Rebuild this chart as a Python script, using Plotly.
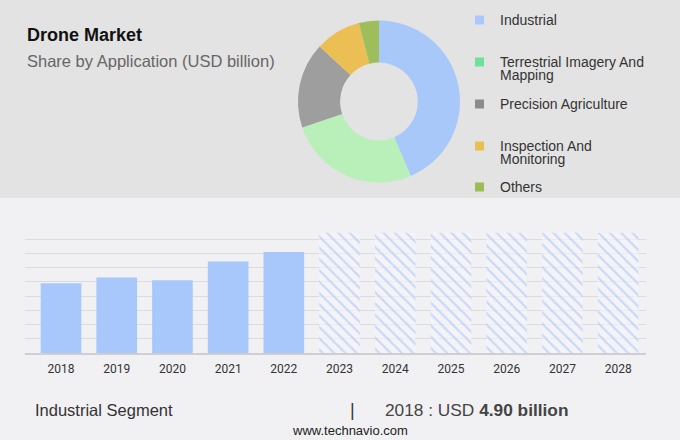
import plotly.graph_objects as go

# ---- data ----
segments = ["Industrial", "Terrestrial Imagery And Mapping", "Precision Agriculture",
            "Inspection And Monitoring", "Others"]
segment_labels = ["Industrial", "Terrestrial Imagery And<br>Mapping", "Precision Agriculture",
                  "Inspection And<br>Monitoring", "Others"]
segment_share = [43.6, 26.2, 17.1, 9.1, 4.0]

hist_years = ["2018", "2019", "2020", "2021", "2022"]
hist_values = [4.90, 5.30, 5.12, 6.43, 7.11]
fcst_years = ["2023", "2024", "2025", "2026", "2027", "2028"]
fcst_values = [8.45, 8.45, 8.45, 8.45, 8.45, 8.45]

# ---- styles ----
W, H = 680, 440
pie_colors = ["#a9c8fa", "#b9f0b9", "#9e9e9e", "#ecbf55", "#9dbe5b"]
legend_colors = ["#a9c8fb", "#6fe196", "#8c8c8c", "#e9c04f", "#9bbd55"]
bar_color = "#a8c8fb"
FONT = "Liberation Sans"

def py(p):
    return 1 - p / H

def px(p):
    return p / W

fig = go.Figure()

fig.add_trace(go.Pie(
    labels=segments, values=segment_share, hole=0.48, sort=False,
    direction="clockwise", rotation=0,
    marker=dict(colors=pie_colors, line=dict(width=0)),
    textinfo="none", hoverinfo="label+percent", showlegend=False,
    domain=dict(x=[px(298), px(460)], y=[py(182.5), py(20.5)]),
))

fig.add_trace(go.Bar(
    x=hist_years, y=hist_values, marker=dict(color=bar_color, line=dict(width=0)),
    width=0.73, showlegend=False,
))
fig.add_trace(go.Bar(
    x=fcst_years, y=fcst_values,
    marker=dict(color="rgba(0,0,0,0)", line=dict(width=0),
                pattern=dict(shape="\\", fgcolor="#9fbef3", bgcolor="rgba(246,247,251,0.6)",
                             size=8, solidity=0.28)),
    width=0.73, showlegend=False,
))

all_years = hist_years + fcst_years

fig.update_layout(
    width=W, height=H, margin=dict(l=0, r=0, t=0, b=0),
    paper_bgcolor="#f1f1f3", plot_bgcolor="rgba(0,0,0,0)",
    barmode="overlay", showlegend=False,
    xaxis=dict(domain=[px(25), px(646)], type="category", categoryorder="array",
               categoryarray=all_years, range=[-0.646, 10.5],
               showgrid=False, showline=True, linecolor="#cfcfd2", linewidth=1.5,
               ticks="", ticklabelstandoff=4,
               tickfont=dict(family="Roboto", size=12, color="#333333")),
    yaxis=dict(domain=[py(353), py(225)], range=[0, 9], dtick=1,
               showgrid=True, gridcolor="#dcdcde", gridwidth=1,
               showticklabels=False, zeroline=False),
    shapes=[dict(type="rect", xref="paper", yref="paper", x0=0, x1=1, y0=py(198), y1=1,
                 fillcolor="#e3e3e3", line=dict(width=0), layer="below")],
)

ann = []
ann.append(dict(text="<b>Drone Market</b>", x=px(25), y=py(35), xref="paper", yref="paper",
                xanchor="left", yanchor="middle", showarrow=False,
                font=dict(family=FONT, size=18, color="#111111")))
ann.append(dict(text="Share by Application (USD billion)", x=px(25), y=py(61), xref="paper",
                yref="paper", xanchor="left", yanchor="middle", showarrow=False,
                font=dict(family=FONT, size=16.5, color="#666666")))

# manual legend
leg_y = [20, 62, 104, 146, 187]
shapes = list(fig.layout.shapes)
for lab, col, yy in zip(segment_labels, legend_colors, leg_y):
    shapes.append(dict(type="rect", xref="paper", yref="paper",
                       x0=px(475), x1=px(484), y0=py(yy + 4.5), y1=py(yy - 4.5),
                       fillcolor=col, line=dict(width=0)))
    for i, line in enumerate(lab.split("<br>")):
        ann.append(dict(text=line, x=px(498), y=py(yy + 13 * i), xref="paper", yref="paper",
                        xanchor="left", yanchor="middle", align="left", showarrow=False,
                        font=dict(family=FONT, size=14, color="#333333")))

ann.append(dict(text="Industrial Segment", x=px(33), y=py(410), xref="paper", yref="paper",
                xanchor="left", yanchor="middle", showarrow=False,
                font=dict(family=FONT, size=16.5, color="#333333")))
ann.append(dict(text="|", x=px(352), y=py(410), xref="paper", yref="paper",
                xanchor="center", yanchor="middle", showarrow=False,
                font=dict(family=FONT, size=18, color="#333333")))
ann.append(dict(text=f"{hist_years[0]} : USD <b>{hist_values[0]:.2f} billion</b>",
                x=px(383), y=py(410), xref="paper", yref="paper",
                xanchor="left", yanchor="middle", showarrow=False,
                font=dict(family=FONT, size=17.3, color="#444444")))
ann.append(dict(text="www.technavio.com", x=px(350), y=py(430), xref="paper", yref="paper",
                xanchor="center", yanchor="middle", showarrow=False,
                font=dict(family=FONT, size=13, color="#222222")))

fig.update_layout(annotations=ann, shapes=shapes)
fig.write_html("out.html", config={"displayModeBar": False},
               post_script="document.body.style.margin='0px';document.body.style.padding='0px';")
